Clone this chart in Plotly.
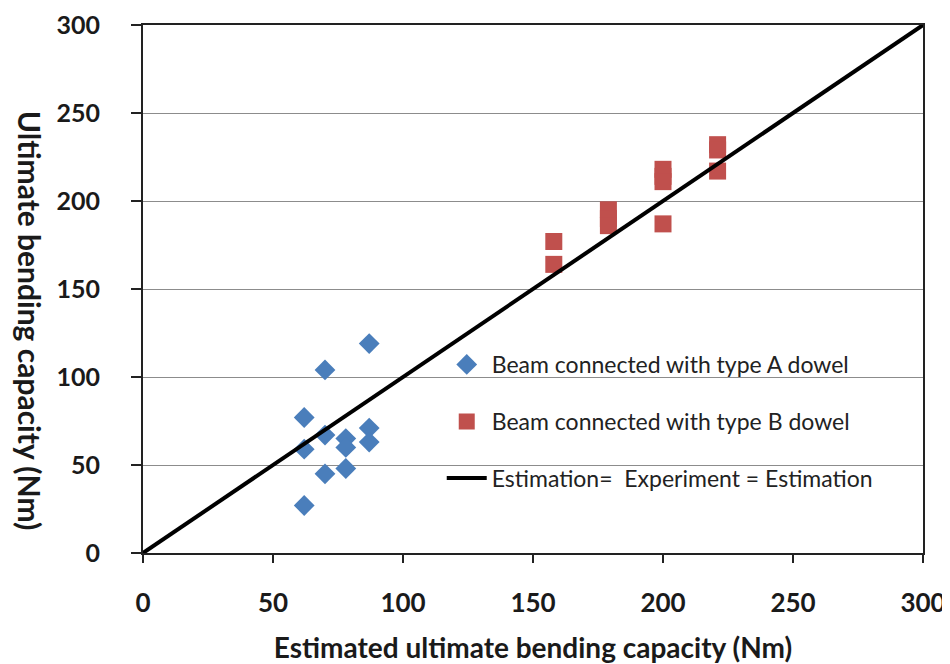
import plotly.graph_objects as go

# Type A dowel (blue diamonds): estimated vs experiment
a_est = [87, 70, 62, 70, 62, 78, 78, 87, 87, 70, 78, 62]
a_exp = [119, 104, 77, 67, 59, 65, 60, 71, 63, 45, 48, 27]

# Type B dowel (red squares)
b_est = [158, 158, 179, 179, 179, 200, 200, 200, 200, 221, 221, 221]
b_exp = [177, 164, 195, 190, 186, 218, 214, 211, 187, 232, 229, 217]

# Reference line
line_x = [0, 300]
line_y = [0, 300]

tick_vals = [0, 50, 100, 150, 200, 250, 300]

fig = go.Figure()
fig.add_trace(go.Scatter(
    x=a_est, y=a_exp, mode="markers", name="Beam connected with type A dowel",
    marker=dict(symbol="diamond", size=16, color="#4A7EBB"), legend="legend"))
fig.add_trace(go.Scatter(
    x=b_est, y=b_exp, mode="markers", name="Beam connected with type B dowel",
    marker=dict(symbol="square", size=17, color="#C0504D"), legend="legend2"))
fig.add_trace(go.Scatter(
    x=line_x, y=line_y, mode="lines", name="Estimation=  Experiment = Estimation",
    line=dict(color="black", width=4), legend="legend3"))

leg_font = dict(family="Lato", size=23, color="#222")
leg_common = dict(xanchor="left", yanchor="middle", font=leg_font,
                  bgcolor="rgba(255,255,255,0)", itemwidth=40)
fig.update_layout(
    width=942, height=656,
    margin=dict(l=135, r=27, t=17, b=111),
    paper_bgcolor="white", plot_bgcolor="white",
    font=dict(family="Lato"),
    legend=dict(x=0.383, y=0.357, **leg_common),
    legend2=dict(x=0.383, y=0.249, **leg_common),
    legend3=dict(x=0.383, y=0.142, **leg_common),
    showlegend=True,
)
fig.update_xaxes(
    range=[0, 300], tickvals=tick_vals, ticktext=[f"<b>{v}</b>" for v in tick_vals],
    tickfont=dict(family="Lato", size=26, color="#1a1a1a"),
    showgrid=False, zeroline=False, automargin=False,
    showline=True, linecolor="#222", linewidth=2, mirror=True,
    ticks="outside", ticklen=8, tickcolor="#222", tickwidth=1.5,
    ticklabelstandoff=18, ticklabeloverflow="allow",
    title=dict(text="<b>Estimated ultimate bending capacity (Nm)</b>",
               font=dict(family="Lato", size=28, color="#1a1a1a"), standoff=30),
)
fig.update_yaxes(
    range=[0, 300], tickvals=tick_vals, ticktext=[f"<b>{v}</b>" for v in tick_vals],
    tickfont=dict(family="Lato", size=25, color="#1a1a1a"),
    showgrid=True, gridcolor="#8c8c8c", gridwidth=1.2,
    zeroline=False, automargin=False,
    showline=True, linecolor="#222", linewidth=2, mirror=True,
    ticks="outside", ticklen=10, tickcolor="#222", tickwidth=1.5,
    ticklabelstandoff=26, ticklabeloverflow="allow",
)
# y-axis title, rotated clockwise as in the reference
fig.add_annotation(
    text="<b>Ultimate bending capacity (Nm)</b>", textangle=90,
    xref="paper", yref="paper", x=-0.145, y=0.44,
    xanchor="center", yanchor="middle", showarrow=False,
    font=dict(family="Lato", size=30, color="#1a1a1a"),
)
fig.write_html("out.html")
